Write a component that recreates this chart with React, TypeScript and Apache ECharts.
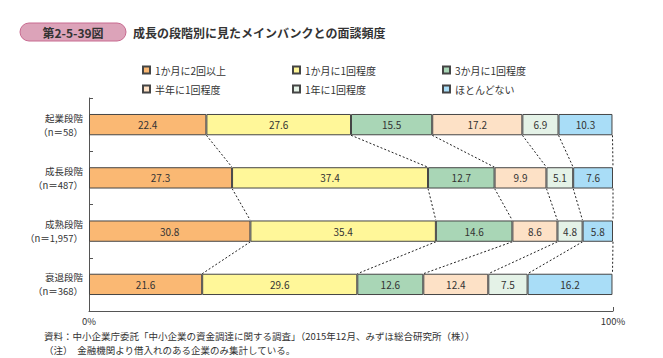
import React, { useEffect, useRef } from "react";
import * as echarts from "echarts";

const stageNames = ["起業段階", "成長段階", "成熟段階", "衰退段階"];
const sampleSizes = ["（n＝58）", "（n＝487）", "（n＝1,957）", "（n＝368）"];
const seriesNames = ["1か月に2回以上", "1か月に1回程度", "3か月に1回程度", "半年に1回程度", "1年に1回程度", "ほとんどない"];
const twicePerMonth = [22.4, 27.3, 30.8, 21.6];
const oncePerMonth = [27.6, 37.4, 35.4, 29.6];
const oncePer3Months = [15.5, 12.7, 14.6, 12.6];
const oncePerHalfYear = [17.2, 9.9, 8.6, 12.4];
const oncePerYear = [6.9, 5.1, 4.8, 7.5];
const rarely = [10.3, 7.6, 5.8, 16.2];
const xTickLabels = ["0%", "100%"];

const seriesValues = [twicePerMonth, oncePerMonth, oncePer3Months, oncePerHalfYear, oncePerYear, rarely];
const colors = ["#FAB873", "#FFF799", "#A9D6B6", "#FDE1C6", "#E4F2E7", "#A9DDF7"];

const FONT = '"Noto Sans CJK JP", "Noto Sans", sans-serif';

export default function App() {
  const ref = useRef<HTMLDivElement>(null);
  useEffect(() => {
    if (!ref.current) return;
    const chart = echarts.init(ref.current, undefined, { renderer: "svg" });

    const cums = stageNames.map((_, r) => {
      let s = 0;
      return seriesValues.map((vals) => {
        s += vals[r];
        return Math.round(s * 10) / 10;
      });
    });
    const connectors: number[][] = [];
    for (let r = 0; r < stageNames.length - 1; r++) {
      for (let k = 0; k < seriesValues.length; k++) {
        connectors.push([cums[r][k], r, cums[r + 1][k], r + 1]);
      }
    }

    const barSeries = seriesValues.map((vals, i) => ({
      name: seriesNames[i],
      type: "bar",
      stack: "total",
      barWidth: "40%",
      data: vals,
      itemStyle: { color: colors[i], borderColor: "#454545", borderWidth: 1 },
      label: {
        show: true,
        position: "inside",
        color: "#333",
        fontSize: 10,
        fontFamily: FONT,
        formatter: (p: any) => p.value.toFixed(1),
      },
      z: 3,
    }));

    const legendLefts = [137, 287, 437];
    const legendTops = [60, 79];
    const legends = seriesNames.map((name, i) => ({
      icon: "rect",
      itemWidth: 7,
      itemHeight: 7,
      left: legendLefts[i % 3],
      top: legendTops[Math.floor(i / 3)],
      textStyle: { fontSize: 10, color: "#333", fontFamily: FONT },
      selectedMode: false,
      data: [name],
    }));

    const richLine = { fontSize: 9.5, lineHeight: 14, color: "#333", fontFamily: FONT, align: "right" };

    chart.setOption({
      animation: false,
      textStyle: { fontFamily: FONT },
      legend: legends,
      grid: { left: 89, right: 50, top: 98, bottom: 47, containLabel: false },
      xAxis: {
        type: "value",
        min: 0,
        max: 100,
        interval: 100,
        splitLine: { show: false },
        axisLine: { show: true, lineStyle: { color: "#555", width: 1 } },
        axisTick: { show: true, inside: true, length: 4, lineStyle: { color: "#555" } },
        axisLabel: {
          color: "#333",
          fontSize: 9.5,
          fontFamily: FONT,
          margin: 5,
          formatter: (v: number) => (v === 0 ? xTickLabels[0] : v === 100 ? xTickLabels[1] : ""),
        },
      },
      yAxis: {
        type: "category",
        inverse: true,
        data: stageNames,
        axisLine: { show: true, lineStyle: { color: "#555", width: 1 } },
        axisTick: { show: true, inside: true, length: 4, lineStyle: { color: "#555" } },
        axisLabel: {
          margin: 6,
          align: "right",
          interval: 0,
          formatter: (v: string, idx: number) => `{a|${v}}\n{b|${sampleSizes[idx]}}`,
          rich: { a: richLine, b: richLine },
        },
      },
      series: [
        ...barSeries,
        {
          type: "custom",
          name: "connectors",
          data: connectors,
          encode: { x: [0, 2], y: [1, 3] },
          silent: true,
          z: 2,
          renderItem: (params: any, api: any) => {
            const p1 = api.coord([api.value(0), api.value(1)]);
            const p2 = api.coord([api.value(2), api.value(3)]);
            const band = api.size([0, 1])[1];
            const h = band * 0.4;
            return {
              type: "line",
              shape: { x1: p1[0], y1: p1[1] + h / 2, x2: p2[0], y2: p2[1] - h / 2 },
              style: { stroke: "#222", lineWidth: 1, lineDash: [2, 2] },
            };
          },
        },
      ],
      graphic: [
        {
          type: "rect",
          shape: { x: 20, y: 23, width: 106, height: 18, r: 9 },
          style: { fill: "#DCA3B9", stroke: "#C86A90", lineWidth: 1 },
        },
        {
          type: "text",
          x: 73,
          y: 32,
          style: {
            text: "第2-5-39図",
            fontSize: 12,
            fontWeight: "bold",
            fill: "#333",
            align: "center",
            verticalAlign: "middle",
            fontFamily: FONT,
          },
        },
        {
          type: "text",
          x: 133,
          y: 32,
          style: {
            text: "成長の段階別に見たメインバンクとの面談頻度",
            fontSize: 12,
            fontWeight: "bold",
            fill: "#333",
            verticalAlign: "middle",
            fontFamily: FONT,
          },
        },
        {
          type: "text",
          x: 44,
          y: 336,
          style: {
            text: "資料：中小企業庁委託「中小企業の資金調達に関する調査」（2015年12月、みずほ総合研究所（株））",
            fontSize: 9.5,
            fill: "#333",
            verticalAlign: "middle",
            fontFamily: FONT,
          },
        },
        {
          type: "text",
          x: 44,
          y: 350,
          style: {
            text: "（注）　金融機関より借入れのある企業のみ集計している。",
            fontSize: 9.5,
            fill: "#333",
            verticalAlign: "middle",
            fontFamily: FONT,
          },
        },
      ],
    });
    return () => chart.dispose();
  }, []);
  return <div ref={ref} style={{ width: 663, height: 358, position: "absolute", left: 0, top: 0 }} />;
}
